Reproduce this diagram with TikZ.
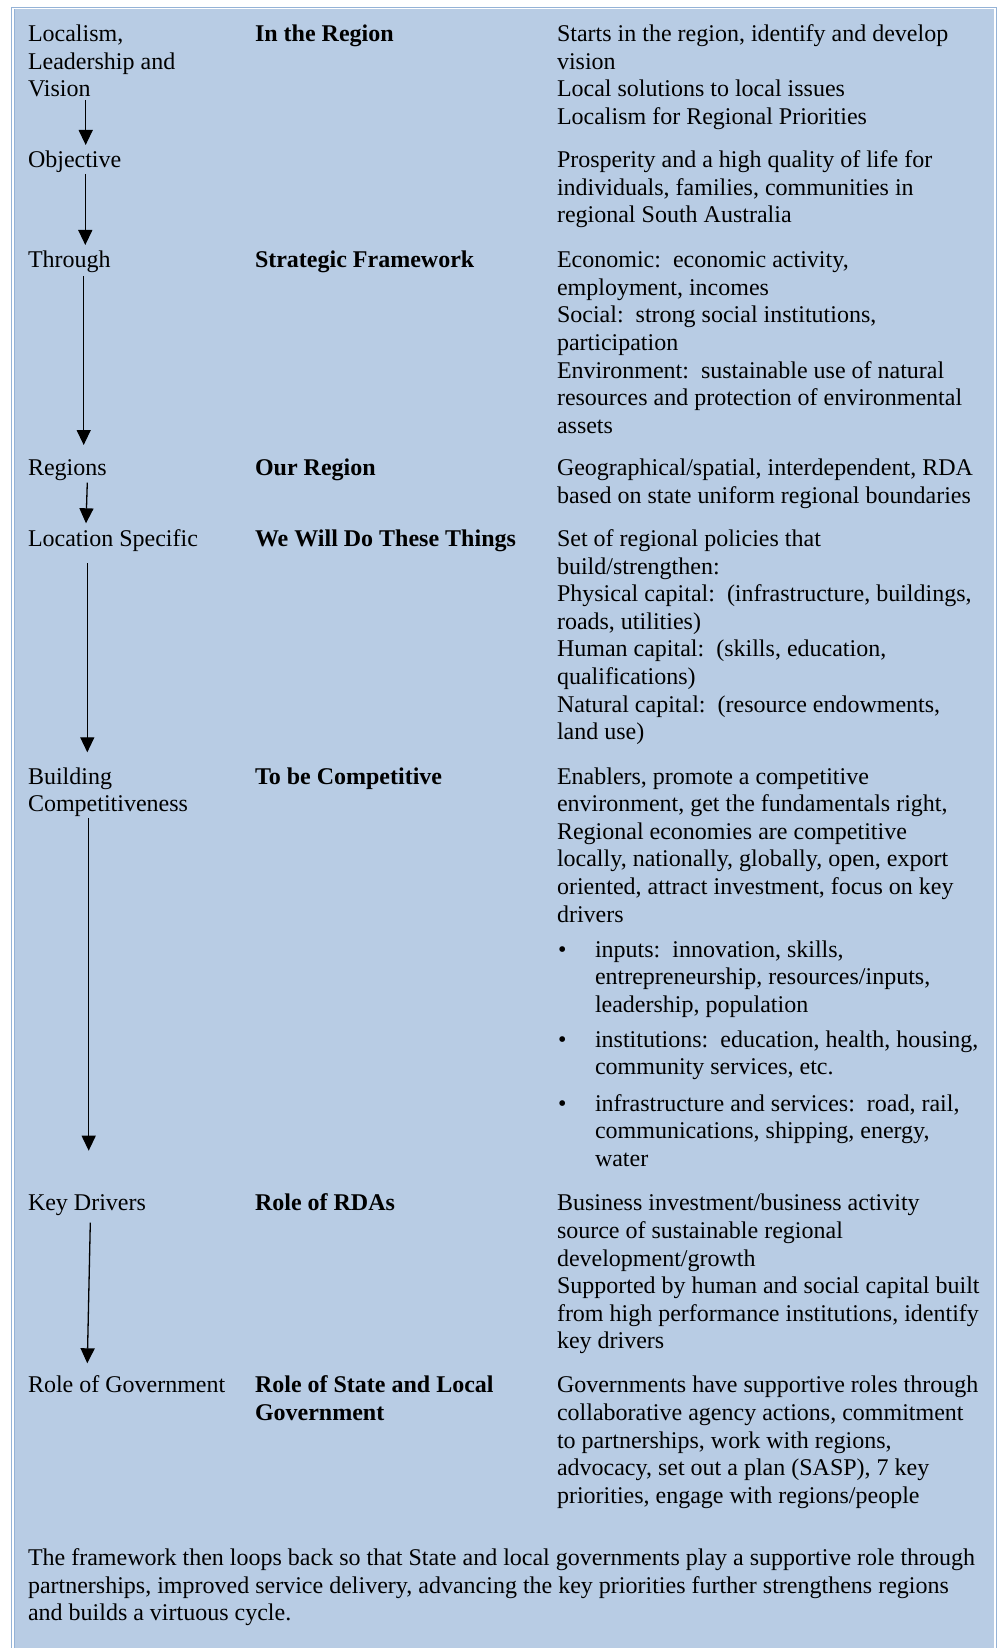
\documentclass[tikz,border=0pt]{standalone}
\usepackage{fontspec}
\setmainfont{Liberation Serif}
\usetikzlibrary{arrows.meta}
\definecolor{panel}{HTML}{B8CCE4}
\definecolor{framecol}{HTML}{95B3D7}
\newcommand\mlines[1]{\begin{tabular}[t]{@{}l@{}}#1\end{tabular}}
\begin{document}
\begin{tikzpicture}[x=0.5pt,y=-0.5pt,
  txt/.style={anchor=base west, inner sep=0pt, outer sep=0pt, font=\fontsize{12}{13.8}\selectfont},
  hd/.style={txt, font=\fontsize{12}{13.8}\selectfont\bfseries},
  flow/.style={line width=0.65pt, -{Triangle[width=7pt,length=7.5pt]}}]
\useasboundingbox (0,0) rectangle (1000,1648);
% panel and frame
\fill[panel] (15,9.5) rectangle (994.3,1648);
\draw[framecol, line width=0.65pt] (11.6,1648) -- (11.6,7.6) -- (996.6,7.6) -- (996.6,1648);
\draw[framecol, line width=0.55pt] (14.4,1648) -- (14.4,9.5);

% row 1
\node[txt] (l1) at (28,41.6) {\mlines{Localism,\\Leadership and\\Vision}};
\node[hd] (m1) at (255,41.6) {In the Region};
\node[txt] (r1) at (557,41.6) {\mlines{Starts in the region, identify and develop\\vision\\Local solutions to local issues\\Localism for Regional Priorities}};
% row 2
\node[txt] (l2) at (28,167.8) {Objective};
\node[txt] (r2) at (557,167.8) {\mlines{Prosperity and a high quality of life for\\individuals, families, communities in\\regional South Australia}};
% row 3
\node[txt] (l3) at (28,267.7) {Through};
\node[hd] (m3) at (255,267.7) {Strategic Framework};
\node[txt] (r3) at (557,267.7) {\mlines{Economic:\ \ economic activity,\\employment, incomes\\Social:\ \ strong social institutions,\\participation\\Environment:\ \ sustainable use of natural\\resources and protection of environmental\\assets}};
% row 4
\node[txt] (l4) at (28,475.9) {Regions};
\node[hd] (m4) at (255,475.9) {Our Region};
\node[txt] (r4) at (557,475.9) {\mlines{Geographical/spatial, interdependent, RDA\\based on state uniform regional boundaries}};
% row 5
\node[txt] (l5) at (28,546.4) {Location Specific};
\node[hd] (m5) at (255,546.4) {We Will Do These Things};
\node[txt] (r5) at (557,546.4) {\mlines{Set of regional policies that\\build/strengthen:\\Physical capital:\ \ (infrastructure, buildings,\\roads, utilities)\\Human capital:\ \ (skills, education,\\qualifications)\\Natural capital:\ \ (resource endowments,\\land use)}};
% row 6
\node[txt] (l6) at (28,784) {\mlines{Building\\Competitiveness}};
\node[hd] (m6) at (255,784) {To be Competitive};
\node[txt] (r6) at (557,784) {\mlines{Enablers, promote a competitive\\environment, get the fundamentals right,\\Regional economies are competitive\\locally, nationally, globally, open, export\\oriented, attract investment, focus on key\\drivers}};
\node[txt, anchor=base] (b1) at (562.3,957) {•};
\node[txt] (t1) at (595,957) {\mlines{inputs:\ \ innovation, skills,\\entrepreneurship, resources/inputs,\\leadership, population}};
\node[txt, anchor=base] (b2) at (562.3,1047) {•};
\node[txt] (t2) at (595,1047) {\mlines{institutions:\ \ education, health, housing,\\community services, etc.}};
\node[txt, anchor=base] (b3) at (562.3,1111) {•};
\node[txt] (t3) at (595,1111) {\mlines{infrastructure and services:\ \ road, rail,\\communications, shipping, energy,\\water}};
% row 7
\node[txt] (l7) at (28,1210.9) {Key Drivers};
\node[hd] (m7) at (255,1210.9) {Role of RDAs};
\node[txt] (r7) at (557,1210.9) {\mlines{Business investment/business activity\\source of sustainable regional\\development/growth\\Supported by human and social capital built\\from high performance institutions, identify\\key drivers}};
% row 8
\node[txt] (l8) at (28,1392.8) {Role of Government};
\node[hd] (m8) at (255,1392.8) {\mlines{Role of State and Local\\Government}};
\node[txt] (r8) at (557,1392.8) {\mlines{Governments have supportive roles through\\collaborative agency actions, commitment\\to partnerships, work with regions,\\advocacy, set out a plan (SASP), 7 key\\priorities, engage with regions/people}};
% closing paragraph
\node[txt] (p) at (28,1565.5) {\mlines{The framework then loops back so that State and local governments play a supportive role through\\partnerships, improved service delivery, advancing the key priorities further strengthens regions\\and builds a virtuous cycle.}};

% arrows
\coordinate (a1s) at (85.7,100);   \coordinate (a1e) at (85.7,145);
\coordinate (a2s) at (85.3,174);   \coordinate (a2e) at (85.3,245);
\coordinate (a3s) at (83.7,276);   \coordinate (a3e) at (83.7,445);
\coordinate (a4s) at (87.3,482.7); \coordinate (a4e) at (86,523.3);
\coordinate (a5s) at (87.3,563.3); \coordinate (a5e) at (87.3,752.3);
\coordinate (a6s) at (88.7,818);   \coordinate (a6e) at (88.7,1150.7);
\coordinate (a7s) at (90.3,1222.7);\coordinate (a7e) at (87.3,1363.3);
\draw[flow] (a1s) -- (a1e);
\draw[flow] (a2s) -- (a2e);
\draw[flow] (a3s) -- (a3e);
\draw[flow] (a4s) -- (a4e);
\draw[flow] (a5s) -- (a5e);
\draw[flow] (a6s) -- (a6e);
\draw[flow] (a7s) -- (a7e);
\end{tikzpicture}
\end{document}
